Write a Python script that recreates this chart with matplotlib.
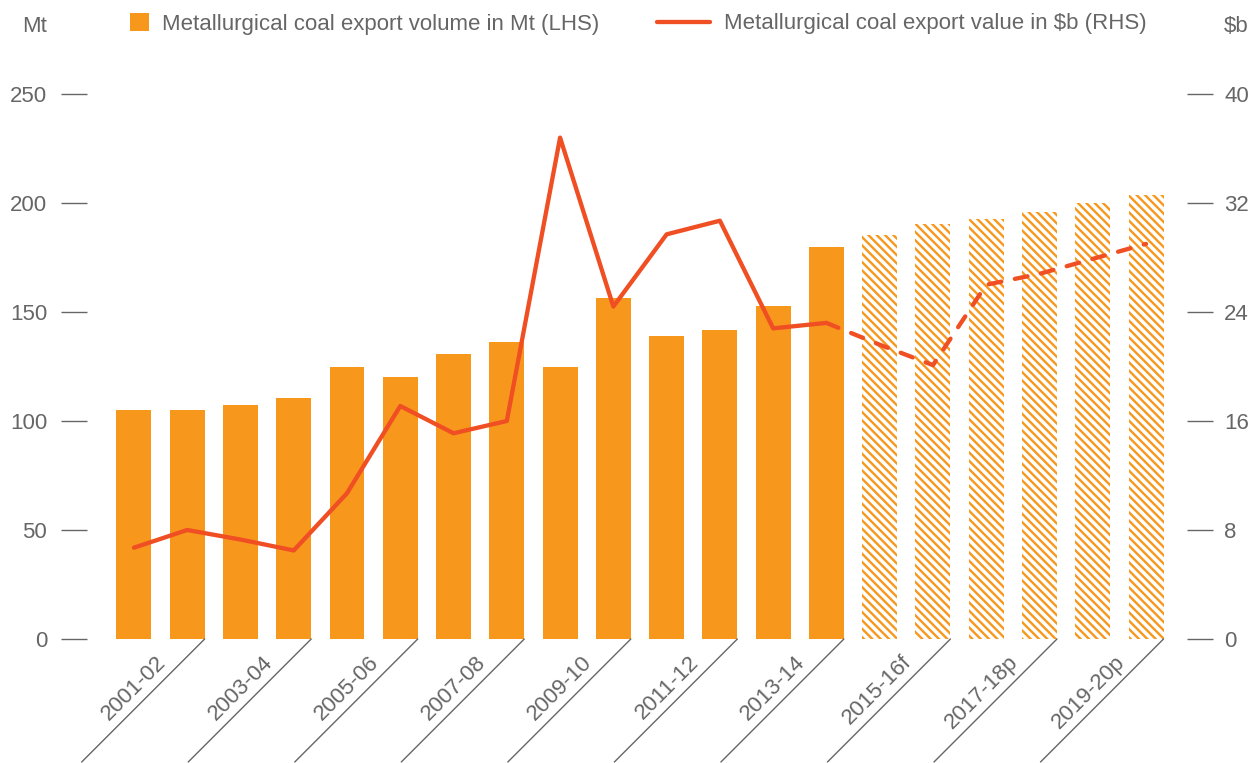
import matplotlib
matplotlib.use('Agg')
import matplotlib.pyplot as plt
from matplotlib.patches import Patch
from matplotlib.lines import Line2D

plt.rcParams['font.family'] = ['Liberation Sans', 'DejaVu Sans']
plt.rcParams['hatch.linewidth'] = 1.7

# financial years, 2015-16 onwards are forecasts/projections
years = ['2001-02', '2002-03', '2003-04', '2004-05', '2005-06', '2006-07',
         '2007-08', '2008-09', '2009-10', '2010-11', '2011-12', '2012-13',
         '2013-14', '2014-15', '2015-16f', '2016-17f', '2017-18p', '2018-19p',
         '2019-20p', '2020-21p']
shown_labels = ['2001-02', '2003-04', '2005-06', '2007-08', '2009-10', '2011-12',
                '2013-14', '2015-16f', '2017-18p', '2019-20p']

# export volume, Mt (LHS)
volume = [105.0, 105.0, 107.3, 110.6, 124.8, 120.2, 130.7, 136.2, 124.8, 156.4,
          139.0, 141.7, 152.8, 179.8, 185.3, 190.4, 192.7, 195.9, 200.0, 203.7]
# export value, $b (RHS)
value = [6.7, 8.0, 7.3, 6.5, 10.7, 17.1, 15.1, 16.0, 36.8, 24.4,
         29.7, 30.7, 22.8, 23.2, 21.6, 20.1, 26.0, 26.8, 27.9, 29.0]
n_actual = 14

orange = '#F7981D'
red = '#F04E23'
grey = '#666666'

W, H = 1258, 763
fig = plt.figure(figsize=(W / 100, H / 100), dpi=100)
ax = fig.add_axes([87 / W, (H - 639) / H, (1187 - 87) / W, (639 - 94) / H])
ax2 = ax.twinx()

x = list(range(len(years)))
bw = 0.656

ax.bar(x[:n_actual], volume[:n_actual], width=bw, color=orange, linewidth=0)
ax.bar(x[n_actual:], volume[n_actual:], width=bw, facecolor='white',
       edgecolor=orange, hatch='\\' * 4, linewidth=0)

ax2.plot(x[:n_actual], value[:n_actual], color=red, lw=3.1,
         solid_capstyle='round', solid_joinstyle='round')
ax2.plot(x[n_actual - 1:], value[n_actual - 1:], color=red, lw=3.1,
         ls=(0, (3.0, 3.2)), dash_capstyle='round', dash_joinstyle='round')

ax.set_xlim(-0.881, 19.769)
ax.set_ylim(0, 250)
ax2.set_ylim(0, 40)
ax.set_yticks([0, 50, 100, 150, 200, 250])
ax2.set_yticks([0, 8, 16, 24, 32, 40])
ax.set_xticks([])

for a in (ax, ax2):
    for s in a.spines.values():
        s.set_visible(False)
ax.tick_params(axis='y', length=18.7, width=1, color=grey, pad=10,
               labelsize=16, labelcolor=grey)
ax2.tick_params(axis='y', length=18.7, width=1, color=grey, pad=8,
                labelsize=16, labelcolor=grey)

# slanted category labels with guide lines under every second pair of bars
for i, lab in enumerate(shown_labels):
    x0 = 2 * i + 1 + bw / 2
    ax.annotate('', xy=(x0, 0), xytext=(-123, -123), textcoords='offset pixels',
                arrowprops=dict(arrowstyle='-', color=grey, lw=1,
                                shrinkA=0, shrinkB=0),
                annotation_clip=False)
    ax.annotate(lab, xy=(x0, 0), xytext=(-42, -20), textcoords='offset pixels',
                rotation=45, rotation_mode='anchor', ha='right', va='center',
                fontsize=16, color=grey, annotation_clip=False)

fig.text(22 / W, 1 - 26 / H, 'Mt', fontsize=16, color=grey, va='center')
fig.text(1224 / W, 1 - 26 / H, '$b', fontsize=16, color=grey, va='center')

fig.legend(handles=[Patch(facecolor=orange, linewidth=0)],
           labels=['Metallurgical coal export volume in Mt (LHS)'],
           loc='center left', bbox_to_anchor=(130 / W, 1 - 24 / H),
           frameon=False, fontsize=16, labelcolor=grey, borderpad=0,
           borderaxespad=0, handlelength=0.86, handleheight=0.86,
           handletextpad=0.59)
fig.legend(handles=[Line2D([], [], color=red, lw=3.1, solid_capstyle='round')],
           labels=['Metallurgical coal export value in $b (RHS)'],
           loc='center left', bbox_to_anchor=(657 / W, 1 - 24 / H),
           frameon=False, fontsize=16, labelcolor=grey, borderpad=0,
           borderaxespad=0, handlelength=2.4, handletextpad=0.63)

fig.savefig('out.png', dpi=100)
